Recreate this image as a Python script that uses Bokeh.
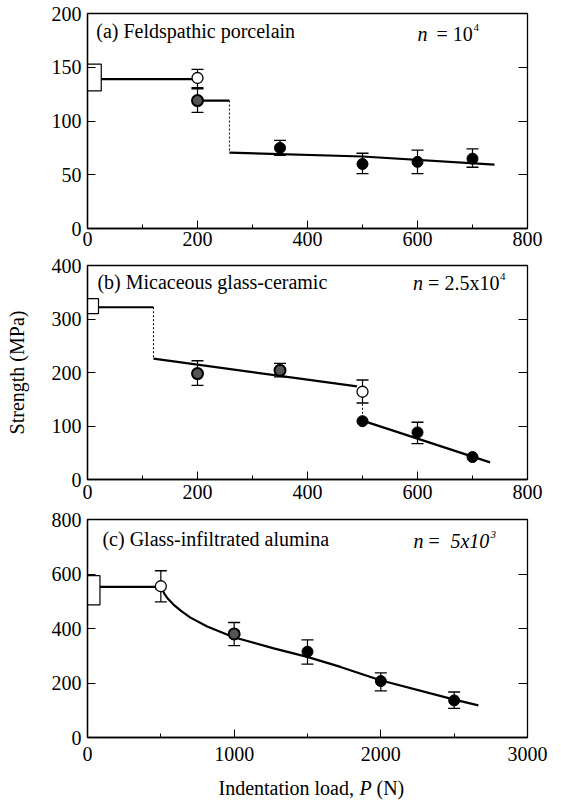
from bokeh.plotting import figure
from bokeh.layouts import column
from bokeh.models import Range1d, LinearAxis, Label, SingleIntervalTicker
from bokeh.embed import file_html
from bokeh.resources import INLINE

FONT = "Liberation Serif"
FS = "20px"

# ---------------- data ----------------
# (a) Feldspathic porcelain
a_box = [128, 153]
a_fit1_x = [25, 200];   a_fit1_y = [139, 139]
a_fit2_x = [200, 258];  a_fit2_y = [119, 119]
a_step_x = [258, 258];  a_step_y = [119, 70.5]
a_fit3_x = [258, 500, 740]; a_fit3_y = [70.5, 67, 59.5]
a_open_x = [200];  a_open_y = [140]
a_half_x = [200];  a_half_y = [119]
a_fill_x = [350, 500, 600, 700]; a_fill_y = [75, 60, 62, 65]
a_err_x = [200, 200, 350, 500, 600, 700]
a_err_lo = [130, 108, 68, 51, 51, 57]
a_err_hi = [148, 131, 82, 70, 73, 74]

# (b) Micaceous glass-ceramic
b_box = [310, 338]
b_fit1_x = [20, 120];   b_fit1_y = [322, 322]
b_step_x = [120, 120];  b_step_y = [322, 226]
b_fit2_x = [120, 490];  b_fit2_y = [226, 174]
b_step2_x = [500, 500]; b_step2_y = [164, 109]
b_fit3_x = [500, 732];  b_fit3_y = [110, 32]
b_open_x = [500];  b_open_y = [164]
b_half_x = [200, 350]; b_half_y = [198, 204]
b_fill_x = [500, 600, 700]; b_fill_y = [109, 88, 42]
b_err_x = [200, 350, 500, 600]
b_err_lo = [176, 192, 143, 67]
b_err_hi = [222, 217, 186, 107]

# (c) Glass-infiltrated alumina
c_box = [487, 594]
c_fit_x = [85, 500, 512, 528, 550, 588, 640, 702, 816, 997, 1270, 1498, 1725, 1997, 2495, 2665]
c_fit_y = [553, 553, 540, 524, 508, 487, 464, 440, 407, 368, 327, 296, 259, 210, 140, 118]
c_open_x = [500];  c_open_y = [555]
c_half_x = [1000]; c_half_y = [380]
c_fill_x = [1500, 2000, 2500]; c_fill_y = [315, 207, 136]
c_err_x = [500, 1000, 1500, 2000, 2500]
c_err_lo = [498, 337, 269, 171, 107]
c_err_hi = [612, 422, 358, 237, 167]

W = 552
LEFT = 87
RIGHT = 25


def make_fig(xmax, ymax, xint, yint, height, top, bottom, xstand):
    p = figure(width=W, height=height, x_range=Range1d(0, xmax), y_range=Range1d(0, ymax),
               output_backend="svg", toolbar_location=None,
               min_border_left=LEFT, min_border_right=RIGHT, min_border_top=top,
               min_border_bottom=bottom)
    p.grid.visible = False
    p.outline_line_color = "black"
    p.outline_line_width = 1.3
    p.background_fill_color = "white"
    p.border_fill_color = "white"
    xa = p.xaxis[0]
    ya = p.yaxis[0]
    xa.ticker = SingleIntervalTicker(interval=xint, num_minor_ticks=2)
    ya.ticker = SingleIntervalTicker(interval=yint, num_minor_ticks=0)
    for ax in (xa, ya):
        ax.axis_line_color = "black"
        ax.axis_line_width = 1.3
        ax.major_tick_in = 8
        ax.major_tick_out = 0
        ax.minor_tick_in = 4
        ax.minor_tick_out = 0
        ax.major_tick_line_color = "black"
        ax.major_tick_line_width = 1
        ax.major_label_text_font = FONT
        ax.major_label_text_font_size = FS
        ax.major_label_text_color = "black"
    xa.major_label_standoff = xstand
    ya.major_label_standoff = 6
    ya.minor_tick_line_color = None
    xa.minor_tick_line_color = "black"
    right = LinearAxis(ticker=SingleIntervalTicker(interval=yint, num_minor_ticks=0),
                       axis_line_color=None, major_tick_in=9, major_tick_out=0,
                       minor_tick_line_color=None, major_label_text_font_size="0px",
                       major_label_text_color=None, major_label_standoff=0)
    p.add_layout(right, "right")
    return p


def draw(p, box, box_w, fits, dotted, open_xy, half_xy, fill_xy, err):
    p.quad(left=[0], right=[box_w], bottom=[box[0]], top=[box[1]],
           fill_color="white", line_color="black", line_width=1.2)
    for fx, fy in fits:
        p.line(fx, fy, line_color="black", line_width=2.2)
    for dx, dy in dotted:
        p.line(dx, dy, line_color="black", line_width=1, line_dash="2 2")
    ex, elo, ehi = err
    p.segment(x0=ex, y0=elo, x1=ex, y1=ehi, line_color="black", line_width=1.2)
    p.scatter(ex, elo, marker="dash", size=12, line_color="black", line_width=1.3)
    p.scatter(ex, ehi, marker="dash", size=12, line_color="black", line_width=1.3)
    p.scatter(fill_xy[0], fill_xy[1], marker="circle", size=11,
              fill_color="black", line_color="black")
    p.scatter(half_xy[0], half_xy[1], marker="circle", size=11,
              fill_color="#555555", line_color="black", line_width=2)
    p.scatter(open_xy[0], open_xy[1], marker="circle", size=11,
              fill_color="white", line_color="black", line_width=1.3)


def label(p, x, y, text, dx=0, dy=0, size=FS, style="normal"):
    p.add_layout(Label(x=x, y=y, x_offset=dx, y_offset=dy, text=text,
                       text_font=FONT, text_font_size=size, text_font_style=style,
                       text_color="black", text_align="left", text_baseline="middle"))


# ---------------- panel (a) ----------------
pa = make_fig(800, 200, 200, 50, 254, 13, 26, 3)
draw(pa, a_box, 25, [(a_fit1_x, a_fit1_y), (a_fit2_x, a_fit2_y), (a_fit3_x, a_fit3_y)],
     [(a_step_x, a_step_y)], (a_open_x, a_open_y), (a_half_x, a_half_y),
     (a_fill_x, a_fill_y), (a_err_x, a_err_lo, a_err_hi))
label(pa, 16, 184, "(a) Feldspathic porcelain")
label(pa, 600, 181, "n", style="italic")
label(pa, 600, 181, "= 10", dx=19)
label(pa, 600, 181, "4", dx=56, dy=6, size="11px")

# ---------------- panel (b) ----------------
pb = make_fig(800, 400, 200, 100, 254, 11, 29, 5)
draw(pb, b_box, 20, [(b_fit1_x, b_fit1_y), (b_fit2_x, b_fit2_y), (b_fit3_x, b_fit3_y)],
     [(b_step_x, b_step_y), (b_step2_x, b_step2_y)], (b_open_x, b_open_y),
     (b_half_x, b_half_y), (b_fill_x, b_fill_y), (b_err_x, b_err_lo, b_err_hi))
yb = pb.yaxis[0]
yb.axis_label = "Strength (MPa)"
yb.axis_label_text_font = FONT
yb.axis_label_text_font_size = FS
yb.axis_label_text_font_style = "normal"
yb.axis_label_text_color = "black"
yb.axis_label_standoff = 21
label(pb, 18, 370, "(b) Micaceous glass-ceramic")
label(pb, 592, 367, "n", style="italic")
label(pb, 592, 367, "= 2.5x10", dx=15)
label(pb, 592, 367, "4", dx=87, dy=7, size="11px")

# ---------------- panel (c) ----------------
pc = make_fig(3000, 800, 1000, 200, 262, 11, 33, 9)
draw(pc, c_box, 85, [(c_fit_x, c_fit_y)], [], (c_open_x, c_open_y),
     (c_half_x, c_half_y), (c_fill_x, c_fill_y), (c_err_x, c_err_lo, c_err_hi))
label(pc, 102, 727, "(c) Glass-infiltrated alumina")
label(pc, 2222, 720, "n", style="italic")
label(pc, 2222, 720, "=", dx=15)
label(pc, 2222, 720, "5x10", dx=37, style="italic")
label(pc, 2222, 720, "3", dx=77, dy=7, size="11px", style="italic")

# ---------------- shared x-axis title (with italic P) ----------------
pd = figure(width=W, height=30, x_range=Range1d(0, 3000), y_range=Range1d(0, 30),
            output_backend="svg", toolbar_location=None, x_axis_type=None, y_axis_type=None,
            min_border_left=LEFT, min_border_right=RIGHT, min_border_top=0, min_border_bottom=0)
pd.grid.visible = False
pd.outline_line_color = None
pd.border_fill_color = "white"
label(pd, 893, 13, "Indentation load, ")
label(pd, 893, 13, "P", dx=141, style="italic")
label(pd, 893, 13, "(N)", dx=158)

layout = column(pa, pb, pc, pd, spacing=0)
open("out.html", "w").write(file_html(layout, INLINE))
